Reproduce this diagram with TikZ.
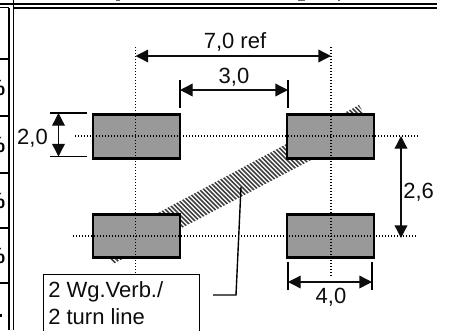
\documentclass[tikz,border=0pt]{standalone}
\usepackage{fontspec}
\setmainfont{Liberation Sans}
\usetikzlibrary{arrows.meta}
\definecolor{padgray}{gray}{0.6}
\definecolor{ink}{gray}{0.05}
\tikzset{
  pad/.style={draw=black,fill=padgray,line width=2.2pt,minimum width=65.25pt,minimum height=32.6pt,inner sep=0pt},
  axisline/.style={black,line width=0.8pt,dash pattern=on 0.8pt off 1.45pt},
  frameline/.style={black,line width=1.15pt},
  cellline/.style={black,line width=0.9pt},
  dimline/.style={ink,line width=1pt,{Triangle[length=9.5pt,width=9.5pt]}-{Triangle[length=9.5pt,width=9.5pt]}},
  extline/.style={black,line width=1.05pt},
  dimtext/.style={inner sep=0pt,font=\fontsize{16.5}{20}\selectfont,text=ink},
  pct/.style={inner sep=0pt,anchor=base east,font=\fontsize{16.5}{20}\selectfont\bfseries},
  hatchline/.style={black!75,line width=1.1pt},
  labelbox/.style={draw=black,line width=1.1pt,fill=white,inner sep=0pt,anchor=north west,minimum width=117pt,minimum height=46pt},
}
\begin{document}
\begin{tikzpicture}[x=0.75pt,y=-0.75pt]
\useasboundingbox (0,0) rectangle (449,330);
\clip (0,0) rectangle (449,330);
% hatched band
\begin{scope}
  \clip (113,264) -- (102,243) -- (359,105) -- (372,128) -- cycle;
  \foreach \s in {-160,-155.5,...,370} {
    \draw[hatchline] (\s,100) -- (\s+170,270);
  }
\end{scope}
% pads
\node[pad] (tl) at (136.5,136.5) {};
\node[pad] (tr) at (330.5,136.5) {};
\node[pad] (bl) at (136.5,236) {};
\node[pad] (br) at (330.5,236) {};
% centre lines
\coordinate (v1a) at (135.5,47);  \coordinate (v1b) at (135.5,273);
\coordinate (v2a) at (331,47);    \coordinate (v2b) at (331,276);
\coordinate (h1a) at (75,136);    \coordinate (h1b) at (418,136);
\coordinate (h2a) at (73,236);    \coordinate (h2b) at (416,236);
\draw[axisline] (v1a) -- (v1b);
\draw[axisline] (v2a) -- (v2b);
\draw[axisline] (h1a) -- (h1b);
\draw[axisline] (h2a) -- (h2b);
% 7,0 ref
\coordinate (a7l) at (135.5,56); \coordinate (a7r) at (331,56);
\draw[dimline] (a7l) -- (a7r);
\node[dimtext,anchor=base] (t7) at (235,48) {7,0 ref};
% 3,0
\coordinate (e3la) at (180,80);  \coordinate (e3lb) at (180,108);
\coordinate (e3ra) at (288,80);  \coordinate (e3rb) at (288,108);
\coordinate (a3l) at (180,90);   \coordinate (a3r) at (288,90);
\draw[extline] (e3la) -- (e3lb);
\draw[extline] (e3ra) -- (e3rb);
\draw[dimline] (a3l) -- (a3r);
\node[dimtext,anchor=base] (t3) at (234,83) {3,0};
% 2,0
\coordinate (e2ta) at (50,113);  \coordinate (e2tb) at (87,113);
\coordinate (e2ba) at (50,156.5);\coordinate (e2bb) at (87,156.5);
\coordinate (a2t) at (58.5,113); \coordinate (a2b) at (58.5,156.5);
\draw[extline] (e2ta) -- (e2tb);
\draw[extline] (e2ba) -- (e2bb);
\draw[dimline] (a2t) -- (a2b);
\node[dimtext,anchor=base] (t2) at (32.5,144.5) {2,0};
% 2,6
\coordinate (a26t) at (401,136); \coordinate (a26b) at (401,238);
\draw[dimline] (a26t) -- (a26b);
\node[dimtext,anchor=base west] (t26) at (403,198) {2,6};
% 4,0
\coordinate (e4la) at (288,262); \coordinate (e4lb) at (288,290);
\coordinate (e4ra) at (372,262); \coordinate (e4rb) at (372,290);
\coordinate (a4l) at (288,282);  \coordinate (a4r) at (372,282);
\draw[extline] (e4la) -- (e4lb);
\draw[extline] (e4ra) -- (e4rb);
\draw[dimline] (a4l) -- (a4r);
\node[dimtext,anchor=base] (t4) at (331,303) {4,0};
% label box
\node[labelbox] (lab) at (43,274) {};
\node[dimtext,anchor=base west] (l1) at (48,297) {2 Wg.Verb./};
\node[dimtext,anchor=base west] (l2) at (48,324) {2 turn line};
% leader
\coordinate (ls) at (213,295); \coordinate (lm) at (236,295); \coordinate (le) at (241,187);
\draw[extline] (ls) -- (lm) -- (le);
% frame
\draw[frameline,line width=1.2pt] (0,4.2) -- (437,4.2);
\draw[frameline,line width=1.2pt] (14,7.7) -- (437,7.7);
\draw[frameline,line width=0.9pt] (0,7.7) -- (9,7.7);
\draw[frameline,line width=0.9pt] (9,8) -- (9,330);
\draw[frameline,line width=1.2pt] (13.3,0) -- (13.3,330);
\draw[cellline] (0,59) -- (9,59);
\draw[cellline] (0,116) -- (9,116);
\draw[cellline] (0,173) -- (9,173);
\draw[cellline] (0,228) -- (9,228);
\draw[cellline] (0,283) -- (9,283);
% cut-off table text
\begin{scope}
  \clip (0,0) rectangle (8,330);
  \node[pct] (p1) at (5.5,95) {\%};
  \node[pct] (p2) at (5.5,152) {\%};
  \node[pct] (p3) at (5.5,208) {\%};
  \node[pct] (p4) at (5.5,263) {\%};
\end{scope}
\fill[black] (0,314) rectangle (2,316.5);
% cut-off title descenders
\fill[black!60] (116,0) rectangle (120,1.2);
\fill[black!60] (298,0) rectangle (305,1.2);
\fill[black!60] (338,0) rectangle (340,1.2);
\end{tikzpicture}
\end{document}
